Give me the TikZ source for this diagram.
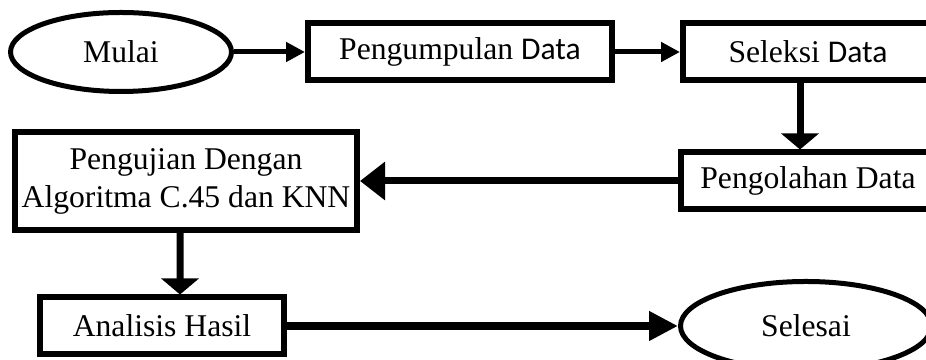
\documentclass[tikz,border=0pt]{standalone}
\usepackage{fontspec}
\setmainfont{Liberation Serif}
\newfontfamily\calibri{Carlito}
\usetikzlibrary{shapes.geometric,arrows.meta}

\begin{document}
\begin{tikzpicture}[every node/.style={font=\fontsize{18}{21.6}\selectfont},
    proses/.style={draw, line width=0.12cm, align=center, inner sep=0pt},
    terminal/.style={draw, ellipse, line width=0.1cm, inner sep=0pt},
    panah/.style={line width=0.1cm, -{Triangle[length=0.38cm,width=0.38cm]}},
    panahturun/.style={line width=0.14cm, -{Triangle[length=0.32cm,width=0.74cm]}},
    panahkiri/.style={line width=0.14cm, -{Triangle[length=0.5cm,width=0.74cm]}},
    panahbawah/.style={line width=0.16cm, -{Triangle[length=0.58cm,width=0.56cm]}}]
    \useasboundingbox (0,0) rectangle (18.52,7.2);
    \clip (0,0) rectangle (18.52,7.2);

    % nodes
    \node[terminal, minimum width=4.42cm, minimum height=1.58cm] (mulai) at (2.42,6.16) {Mulai};
    \node[proses, minimum width=6.08cm, minimum height=1.14cm] (kumpul) at (9.2,6.16) {Pengumpulan {\calibri Data}};
    \node[proses, minimum width=5.0cm, minimum height=1.14cm] (seleksi) at (16.16,6.16) {Seleksi {\calibri Data}};
    \node[proses, minimum width=5.08cm, minimum height=1.14cm] (olah) at (16.16,3.58) {Pengolahan Data};
    \node[proses, minimum width=6.84cm, minimum height=1.96cm] (uji) at (3.72,3.58) {Pengujian Dengan\\Algoritma C.45 dan KNN};
    \node[proses, minimum width=4.88cm, minimum height=1.14cm] (analisis) at (3.24,0.68) {Analisis Hasil};
    \node[terminal, minimum width=5.02cm, minimum height=1.78cm] (selesai) at (16.12,0.68) {Selesai};

    % arrows
    \draw[panah] (mulai) -- (kumpul);
    \draw[panah] (kumpul) -- (seleksi);
    \draw[panahturun] ([xshift=-0.16cm]seleksi.south) -- ([xshift=-0.16cm]olah.north);
    \draw[panahkiri] (olah) -- (uji);
    \draw[panahturun] ([xshift=-0.12cm]uji.south) -- ([xshift=0.36cm]analisis.north);
    \draw[panahbawah] (analisis) -- (selesai);

\end{tikzpicture}
\end{document}
